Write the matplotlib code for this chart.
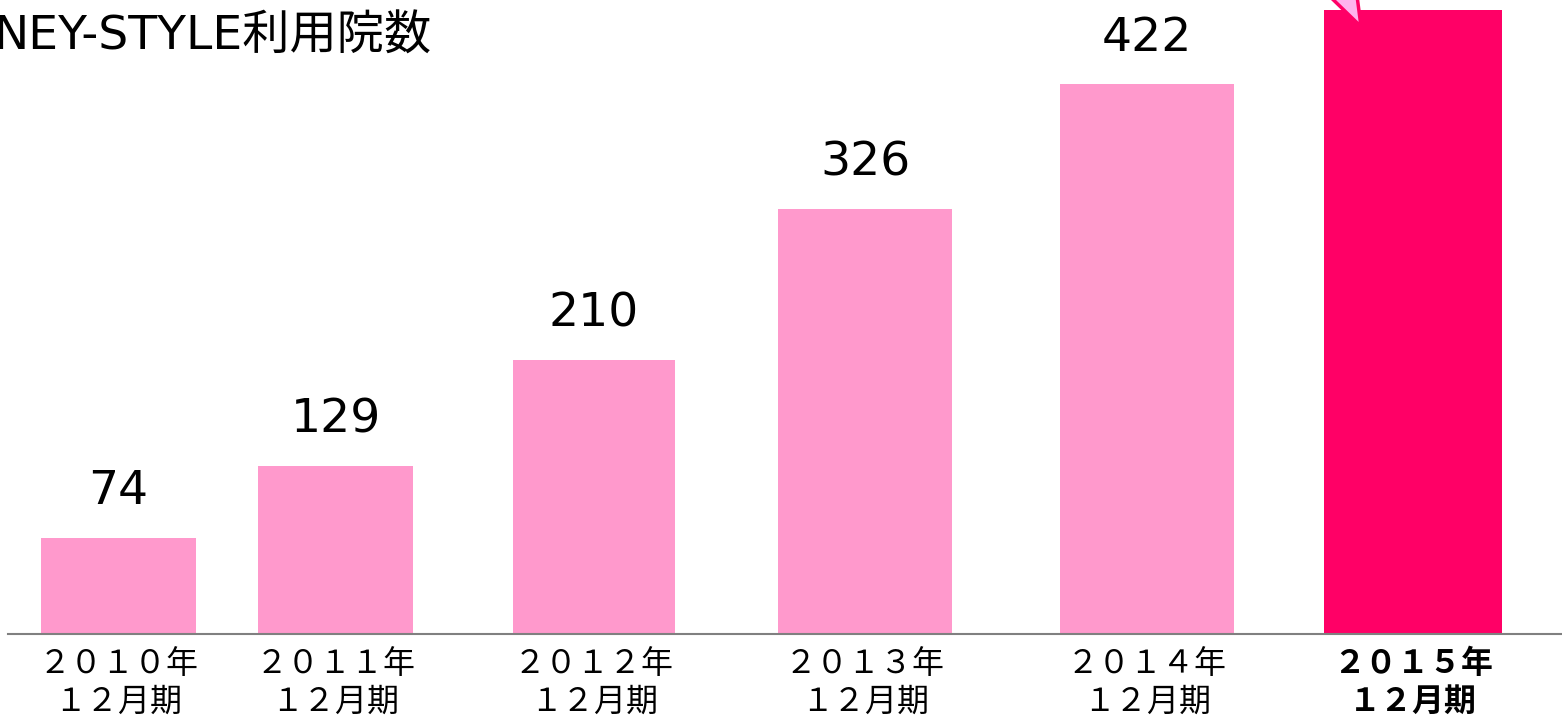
import matplotlib
matplotlib.use("Agg")
import matplotlib.pyplot as plt
from matplotlib.patches import Polygon

plt.rcParams['font.family'] = ['DejaVu Sans', 'Noto Sans CJK JP']

# ---- data ----
categories = ["２０１０年\n１２月期", "２０１１年\n１２月期", "２０１２年\n１２月期",
              "２０１３年\n１２月期", "２０１４年\n１２月期", "２０１５年\n１２月期"]
values = [74, 129, 210, 326, 422, 479]
value_labels = ["74", "129", "210", "326", "422", ""]
title_text = "NEY-STYLE利用院数"

# ---- layout / style ----
x_pos = [110.5, 327.5, 586, 857, 1139, 1405]
widths = [155, 155, 162, 174, 174, 178]
colors = ["#ff99cc"] * 5 + ["#ff0066"]

W, H = 1562, 718
fig = plt.figure(figsize=(W / 100, H / 100), dpi=100)
ax = fig.add_axes([8 / W, 84 / H, 1 - 8 / W, 634 / H])
ax.set_xlim(0, W - 8)
ax.set_ylim(0, 486.4)

bars = ax.bar(x_pos, values, width=widths, color=colors, zorder=2)

for b, lab in zip(bars, value_labels):
    if lab:
        ax.annotate(lab, (b.get_x() + b.get_width() / 2, b.get_height()),
                    xytext=(0, 33), textcoords="offset points",
                    ha="center", va="center", fontsize=34, color="black")

ax.set_xticks(x_pos)
ax.set_xticklabels(categories, fontsize=23, linespacing=1.22,
                   family=['Noto Sans CJK JP', 'DejaVu Sans'])
ax.get_xticklabels()[-1].set_fontweight("bold")
ax.tick_params(axis="x", length=0, pad=10)
ax.set_yticks([])
for s in ["left", "right", "top"]:
    ax.spines[s].set_visible(False)
ax.spines["bottom"].set_color("#808080")
ax.spines["bottom"].set_linewidth(1.5)

# callout tail on the highlighted bar
last = bars[-1]
px, py = ax.transData.transform((last.get_x(), last.get_height()))
pts = [(px + 5, py + 14), (px + 37, py - 17), (px + 33, py + 14)]
tail = Polygon(pts, closed=True, transform=None, facecolor="#ffb3ee",
               edgecolor="#ff0066", linewidth=2.5, zorder=3)
fig.patches.append(tail)

fig.text(432 / W, 1 - 50 / H, title_text, ha="right", va="baseline",
         fontsize=34, color="black")

fig.savefig("out.png", dpi=100)
